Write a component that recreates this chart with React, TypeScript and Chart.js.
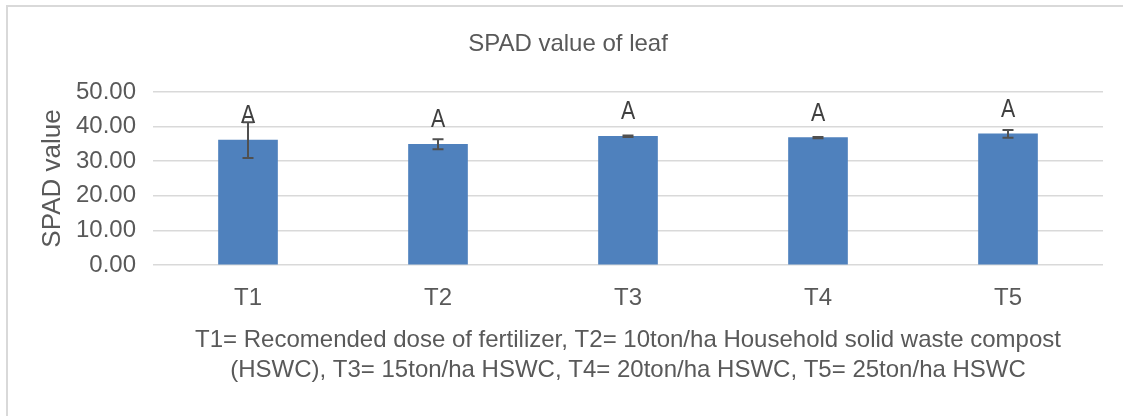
import React, { useEffect, useRef } from 'react';
import { Chart, registerables } from 'chart.js';

Chart.register(...registerables);

const categories = ['T1', 'T2', 'T3', 'T4', 'T5'];
const spadMeans = [36.1, 34.9, 37.2, 36.8, 37.9];
const spadErrors = [5.15, 1.45, 0.2, 0.2, 1.15];
const groupLetters = ['A', 'A', 'A', 'A', 'A'];
const yTicks = [0, 10, 20, 30, 40, 50];
const chartTitle = 'SPAD value of leaf';
const yAxisTitle = 'SPAD value';
const xAxisTitle = [
  'T1= Recomended dose of fertilizer, T2= 10ton/ha Household solid waste compost',
  '(HSWC), T3= 15ton/ha HSWC, T4= 20ton/ha HSWC, T5= 25ton/ha HSWC',
];

const FAMILY = '"Liberation Sans", Arial, sans-serif';
const TEXT = '#595959';

const errorBarPlugin = {
  id: 'errorBarsAndLetters',
  afterDatasetsDraw(chart: any) {
    const { ctx } = chart;
    const y = chart.scales.y;
    const meta = chart.getDatasetMeta(0);
    ctx.save();
    ctx.strokeStyle = '#505050';
    ctx.lineWidth = 2;
    meta.data.forEach((bar: any, i: number) => {
      const x = bar.x;
      const top = y.getPixelForValue(spadMeans[i] + spadErrors[i]);
      const bot = y.getPixelForValue(spadMeans[i] - spadErrors[i]);
      ctx.beginPath();
      ctx.moveTo(x, top);
      ctx.lineTo(x, bot);
      ctx.moveTo(x - 5.5, top);
      ctx.lineTo(x + 5.5, top);
      ctx.moveTo(x - 5.5, bot);
      ctx.lineTo(x + 5.5, bot);
      ctx.stroke();
    });
    ctx.fillStyle = '#404040';
    ctx.font = `26px ${FAMILY}`;
    ctx.textAlign = 'center';
    ctx.textBaseline = 'alphabetic';
    meta.data.forEach((bar: any, i: number) => {
      const yy = y.getPixelForValue(spadMeans[i]) - 17;
      ctx.save();
      ctx.translate(bar.x, yy);
      ctx.scale(0.82, 1);
      ctx.fillText(groupLetters[i], 0, 0);
      ctx.restore();
    });
    ctx.restore();
  },
};

export default function App() {
  const canvasRef = useRef<HTMLCanvasElement | null>(null);

  useEffect(() => {
    const canvas = canvasRef.current;
    if (!canvas) return;
    const chart = new Chart(canvas, {
      type: 'bar',
      data: {
        labels: categories,
        datasets: [
          {
            label: 'SPAD value',
            data: spadMeans,
            backgroundColor: '#4f81bd',
            borderWidth: 0,
            barThickness: 59,
          },
        ],
      },
      options: {
        animation: false,
        responsive: false,
        devicePixelRatio: 1,
        layout: { padding: { left: 33, right: 20, top: 0, bottom: 0 } },
        plugins: {
          legend: { display: false },
          tooltip: { enabled: false },
          title: {
            display: true,
            text: chartTitle,
            color: TEXT,
            font: { family: FAMILY, size: 24, weight: 'normal', lineHeight: 1.2 },
            padding: { top: 30, bottom: 33.2 },
          },
        },
        scales: {
          x: {
            grid: { display: false, drawTicks: false },
            border: { display: false },
            ticks: { color: TEXT, font: { family: FAMILY, size: 24 }, padding: 19 },
            title: {
              display: true,
              text: xAxisTitle,
              color: TEXT,
              font: { family: FAMILY, size: 24, lineHeight: '30px' },
              padding: { top: 0, bottom: 31 },
            },
            afterFit: (s: any) => {
              s.height = 151;
            },
          },
          y: {
            min: 0,
            max: 50,
            afterBuildTicks: (s: any) => {
              s.ticks = yTicks.map((v) => ({ value: v }));
            },
            grid: { color: '#d9d9d9', lineWidth: 1.5, drawTicks: false },
            border: { display: false },
            ticks: {
              color: TEXT,
              font: { family: FAMILY, size: 24 },
              padding: 17,
              callback: (v: any) => Number(v).toFixed(2),
            },
            title: {
              display: true,
              text: yAxisTitle,
              color: TEXT,
              font: { family: FAMILY, size: 26 },
              padding: { top: 4, bottom: 0 },
            },
            afterFit: (s: any) => {
              s.width = 120;
            },
          },
        },
      },
      plugins: [errorBarPlugin],
    } as any);
    return () => chart.destroy();
  }, []);

  return (
    <>
      <div
        style={{
          position: 'fixed',
          left: 6,
          top: 5,
          width: 1117,
          height: 411,
          borderTop: '2px solid #d9d9d9',
          borderLeft: '2px solid #d9d9d9',
          boxSizing: 'border-box',
        }}
      />
      <canvas
        ref={canvasRef}
        width={1123}
        height={416}
        style={{ position: 'fixed', left: 0, top: 0, width: 1123, height: 416 }}
      />
    </>
  );
}
